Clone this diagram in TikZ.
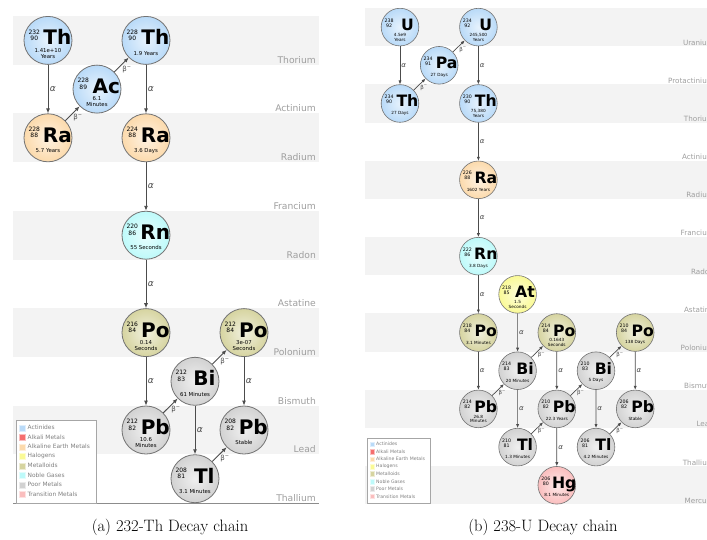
\documentclass[tikz,border=0pt]{standalone}
\usepackage{fontspec}
\usetikzlibrary{arrows.meta}
\newfontfamily\elemfont{DejaVu Sans}

\definecolor{actinide}{RGB}{185,218,248}
\definecolor{alkali}{RGB}{245,110,110}
\definecolor{earth}{RGB}{252,218,172}
\definecolor{halogen}{RGB}{250,250,150}
\definecolor{metalloid}{RGB}{214,212,160}
\definecolor{noble}{RGB}{190,250,250}
\definecolor{poor}{RGB}{210,210,210}
\definecolor{transition}{RGB}{250,190,190}
\definecolor{band}{RGB}{243,243,243}

% one nuclide: name, grid position, colour, A, Z, symbol, half-life
\newcommand{\nuclide}[7]{%
  \begin{scope}[shift={(#2)}]
    \node[elem=#3] (#1) at (0,0) {};
    \node[massno] (#1-a) at (-.28,-.11) {#4\\#5};
    \node[symb] (#1-s) at (.19,.092) {#6};
    \node[life] (#1-t) at (0,.262) {#7};
  \end{scope}}

% legend box, #1 = prefix for the node names
\newcommand{\keylist}[1]{%
  \draw[black!35, fill=white] (0,0) rectangle (80,83);
  \foreach \c/\t [count=\i from 0] in {actinide/Actinides, alkali/Alkali Metals,
      earth/Alkaline Earth Metals, halogen/Halogens, metalloid/Metalloids,
      noble/Noble Gases, poor/Poor Metals, transition/Transition Metals}{
    \fill[\c, draw=white!55!\c] (3.5,5+9.5*\i) rectangle (9.5,11+9.5*\i);
    \node[keytext] (#1-key\i) at (11.5,8+9.5*\i) {\t};
  }}

\begin{document}
\begin{tikzpicture}[x=1pt, y=-1pt,
  elem/.style={circle, minimum size=48pt, inner sep=0pt, draw=black!55, line width=.8pt,
    inner color=#1!35!white, outer color=#1},
  massno/.style={font=\elemfont\fontsize{6}{6.4}\selectfont, align=center, inner sep=0pt},
  symb/.style={font=\elemfont\bfseries\fontsize{20}{20}\selectfont, anchor=base, inner sep=0pt},
  life/.style={font=\elemfont\fontsize{5.4}{6.2}\selectfont, align=center, inner sep=0pt},
  decay/.style={draw=black!70, line width=.9pt, -{Latex[length=5pt,width=4pt]}},
  alab/.style={right, inner sep=1.5pt, font=\elemfont\itshape\fontsize{9}{9}\selectfont, text=black!70},
  blab/.style={pos=.5, anchor=north west, inner sep=.5pt, font=\elemfont\fontsize{7}{7}\selectfont, text=black!70},
  rowlab/.style={anchor=base east, inner sep=0pt, yshift=1.5pt, font=\elemfont\fontsize{9.2}{9.2}\selectfont, text=black!38},
  keytext/.style={anchor=west, inner sep=0pt, font=\elemfont\fontsize{5.9}{6}\selectfont, text=black!50},
  caption/.style={font=\fontsize{16.5}{20}\selectfont}]
\useasboundingbox (0,0) rectangle (707,539);
\clip (0,0) rectangle (707,539);

% (a) 232-Th
\begin{scope}[shift={(48,40.4)}, x=49pt, y=-48.7pt]
\foreach \j in {0,2,...,8}
  \fill[band] (-.714,\j-.5) rectangle (5.53,\j+.5);
\foreach \n [count=\j from 0] in {Thorium,Actinium,Radium,Francium,Radon,Astatine,Polonium,Bismuth,Lead,Thallium}
  \node[rowlab] (L\j) at (5.47,\j+.5) {\n};
\draw[black!45, line width=.8pt] (-.714,9.5) -- (5.53,9.5);

\nuclide{th232}{0,0}{actinide}{232}{90}{Th}{1.41e+10\\Years}
\nuclide{ac228}{1,1}{actinide}{228}{89}{Ac}{6.1\\Minutes}
\nuclide{th228}{2,0}{actinide}{228}{90}{Th}{1.9 Years}
\nuclide{ra228}{0,2}{earth}{228}{88}{Ra}{5.7 Years}
\nuclide{ra224}{2,2}{earth}{224}{88}{Ra}{3.6 Days}
\nuclide{rn220}{2,4}{noble}{220}{86}{Rn}{55 Seconds}
\nuclide{po216}{2,6}{metalloid}{216}{84}{Po}{0.14\\Seconds}
\nuclide{po212}{4,6}{metalloid}{212}{84}{Po}{3e-07\\Seconds}
\nuclide{bi212}{3,7}{poor}{212}{83}{Bi}{61 Minutes}
\nuclide{pb212}{2,8}{poor}{212}{82}{Pb}{10.6\\Minutes}
\nuclide{pb208}{4,8}{poor}{208}{82}{Pb}{Stable}
\nuclide{tl208}{3,9}{poor}{208}{81}{Tl}{3.1 Minutes}

\draw[decay] (th232) -- node[alab]{α} (ra228);
\draw[decay] (ra228) -- node[blab]{β\textsuperscript{−}} (ac228);
\draw[decay] (ac228) -- node[blab]{β\textsuperscript{−}} (th228);
\draw[decay] (th228) -- node[alab]{α} (ra224);
\draw[decay] (ra224) -- node[alab]{α} (rn220);
\draw[decay] (rn220) -- node[alab]{α} (po216);
\draw[decay] (po216) -- node[alab]{α} (pb212);
\draw[decay] (pb212) -- node[blab]{β\textsuperscript{−}} (bi212);
\draw[decay] (bi212) -- node[blab]{β\textsuperscript{−}} (po212);
\draw[decay] (bi212) -- node[alab]{α} (tl208);
\draw[decay] (po212) -- node[alab]{α} (pb208);
\draw[decay] (tl208) -- node[blab]{β\textsuperscript{−}} (pb208);

\begin{scope}[shift={(-.653,7.79)}, x=1pt, y=-1pt]
\keylist{a}
\end{scope}
\end{scope}

% (b) 238-U
\begin{scope}[shift={(400,27.1)}, scale=.784, transform shape, x=50pt, y=-48.7pt,
  decay/.style={draw=black!70, line width=.7pt, -{Latex[length=4pt,width=3.2pt]}},
  elem/.append style={line width=.6pt}]
\foreach \j in {0,2,...,12}
  \fill[band] (-.893,\j-.5) rectangle (8.3,\j+.5);
\foreach \n [count=\j from 0] in {Uranium,Protactinium,Thorium,Actinium,Radium,Francium,Radon,Astatine,Polonium,Bismuth,Lead,Thallium,Mercury}
  \node[rowlab] (R\j) at (8.01,\j+.5) {\n};

\nuclide{u238}{0,0}{actinide}{238}{92}{U}{4.5e9\\Years}
\nuclide{pa234}{1,1}{actinide}{234}{91}{Pa}{27 Days}
\nuclide{u234}{2,0}{actinide}{234}{92}{U}{245,500\\Years}
\nuclide{th234}{0,2}{actinide}{234}{90}{Th}{27 Days}
\nuclide{th230}{2,2}{actinide}{230}{90}{Th}{75,380\\Years}
\nuclide{ra226}{2,4}{earth}{226}{88}{Ra}{1602 Years}
\nuclide{rn222}{2,6}{noble}{222}{86}{Rn}{3.8 Days}
\nuclide{at218}{3,7}{halogen}{218}{85}{At}{1.5\\Seconds}
\nuclide{po218}{2,8}{metalloid}{218}{84}{Po}{3.1 Minutes}
\nuclide{po214}{4,8}{metalloid}{214}{84}{Po}{0.1643\\Seconds}
\nuclide{po210}{6,8}{metalloid}{210}{84}{Po}{138 Days}
\nuclide{bi214}{3,9}{poor}{214}{83}{Bi}{20 Minutes}
\nuclide{bi210}{5,9}{poor}{210}{83}{Bi}{5 Days}
\nuclide{pb214}{2,10}{poor}{214}{82}{Pb}{26.8\\Minutes}
\nuclide{pb210}{4,10}{poor}{210}{82}{Pb}{22.3 Years}
\nuclide{pb206}{6,10}{poor}{206}{82}{Pb}{Stable}
\nuclide{tl210}{3,11}{poor}{210}{81}{Tl}{1.3 Minutes}
\nuclide{tl206}{5,11}{poor}{206}{81}{Tl}{4.2 Minutes}
\nuclide{hg206}{4,12}{transition}{206}{80}{Hg}{8.1 Minutes}

\draw[decay] (u238) -- node[alab]{α} (th234);
\draw[decay] (th234) -- node[blab]{β\textsuperscript{−}} (pa234);
\draw[decay] (pa234) -- node[blab]{β\textsuperscript{−}} (u234);
\draw[decay] (u234) -- node[alab]{α} (th230);
\draw[decay] (th230) -- node[alab]{α} (ra226);
\draw[decay] (ra226) -- node[alab]{α} (rn222);
\draw[decay] (rn222) -- node[alab]{α} (po218);
\draw[decay] (at218) -- node[alab]{α} (bi214);
\draw[decay] (po218) -- node[alab]{α} (pb214);
\draw[decay] (pb214) -- node[blab]{β\textsuperscript{−}} (bi214);
\draw[decay] (bi214) -- node[blab]{β\textsuperscript{−}} (po214);
\draw[decay] (bi214) -- node[alab]{α} (tl210);
\draw[decay] (po214) -- node[alab]{α} (pb210);
\draw[decay] (tl210) -- node[blab]{β\textsuperscript{−}} (pb210);
\draw[decay] (pb210) -- node[blab]{β\textsuperscript{−}} (bi210);
\draw[decay] (pb210) -- node[alab]{α} (hg206);
\draw[decay] (bi210) -- node[blab]{β\textsuperscript{−}} (po210);
\draw[decay] (bi210) -- node[alab]{α} (tl206);
\draw[decay] (po210) -- node[alab]{α} (pb206);
\draw[decay] (tl206) -- node[blab]{β\textsuperscript{−}} (pb206);

\begin{scope}[shift={(-.84,10.76)}, x=1pt, y=-1pt]
\keylist{b}
\end{scope}
\end{scope}

\node[caption] (capa) at (170,527) {(a) 232-Th Decay chain};
\node[caption] (capb) at (543,527) {(b) 238-U Decay chain};
\end{tikzpicture}
\end{document}
